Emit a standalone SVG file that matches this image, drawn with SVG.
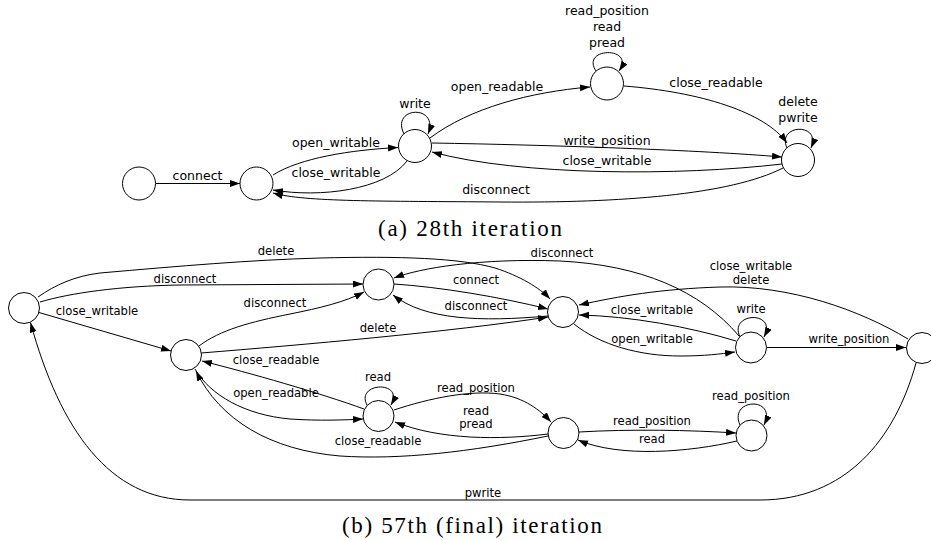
<svg xmlns="http://www.w3.org/2000/svg" width="931" height="540" viewBox="0 0 931 540">
<defs>
<marker id="arr" markerUnits="userSpaceOnUse" markerWidth="10" markerHeight="8" refX="10" refY="3.5" orient="auto">
<path d="M0,0 L10,3.5 L0,7 z" fill="#000"/>
</marker>
<style>
.nd{fill:#fff;stroke:#000;stroke-width:1}
.e{fill:none;stroke:#000;stroke-width:1;marker-end:url(#arr)}
.la{font-family:"DejaVu Sans",sans-serif;font-size:12.5px;text-anchor:middle;fill:#000}
.lb{font-family:"DejaVu Sans",sans-serif;font-size:11.6px;text-anchor:middle;fill:#000}
.cap{font-family:"Liberation Serif",serif;font-size:23px;fill:#000}
</style>
</defs>
<rect width="931" height="540" fill="#fff"/>

<!-- (a) -->
<g id="edges-a">
<path class="e" d="M156,183.5 L240,183.5"/>
<path class="e" d="M273,175 C300,158 350,150 398,147.5"/>
<path class="e" d="M407,161 C385,190 320,198 273,190"/>
<path class="e" d="M783,168 C730,195 620,203 500,202 C380,201 305,202 273,193"/>
<path class="e" d="M404,134 C390,106 440,104 428,134"/>
<path class="e" d="M430,138 C470,108 530,92 590,87"/>
<path class="e" d="M596,71 C580,47 636,46 619,71"/>
<path class="e" d="M624,86 C700,92 765,112 787,143"/>
<path class="e" d="M787,148 C776,124 822,122 811,148"/>
<path class="e" d="M432,143 C550,145 700,150 782,157"/>
<path class="e" d="M782,164 C680,176 520,176 432,152"/>
</g>
<g id="labels-a">
<text class="la" x="197.5" y="180">connect</text>
<text class="la" x="336" y="147">open_writable</text>
<text class="la" x="336" y="177">close_writable</text>
<text class="la" x="496" y="194">disconnect</text>
<text class="la" x="415" y="108">write</text>
<text class="la" x="497" y="91">open_readable</text>
<text class="la" x="607" y="15">read_position</text>
<text class="la" x="607" y="31">read</text>
<text class="la" x="607" y="47">pread</text>
<text class="la" x="716" y="87">close_readable</text>
<text class="la" x="798" y="106">delete</text>
<text class="la" x="798" y="122">pwrite</text>
<text class="la" x="607" y="145">write_position</text>
<text class="la" x="607" y="165">close_writable</text>
</g>
<g id="a1"><circle class="nd" cx="139" cy="183.5" r="16.5"/></g>
<g id="a2"><circle class="nd" cx="256.5" cy="183.5" r="16.5"/></g>
<g id="a3"><circle class="nd" cx="415" cy="146" r="16.5"/></g>
<g id="a4"><circle class="nd" cx="607" cy="83.5" r="16.5"/></g>
<g id="a5"><circle class="nd" cx="798" cy="160" r="16.5"/></g>
<text class="cap" x="470" y="236" text-anchor="middle" textLength="184" lengthAdjust="spacing">(a) 28th iteration</text>

<!-- (b) -->
<g id="edges-b">
<path class="e" d="M38,297 C55,285 75,276 100,273 C180,266 250,260 320,258 C400,256 460,258 495,268 C520,276 540,288 550,299"/>
<path class="e" d="M40,302 C70,293 120,286 180,285 L363,284"/>
<path class="e" d="M39,312.5 L171,351"/>
<path class="e" d="M199,346 C220,330 250,322 290,314 C320,308 345,302 364,292"/>
<path class="e" d="M201,353 C300,345 450,332 548,317"/>
<path class="e" d="M394,284 C440,287 500,297 548,309"/>
<path class="e" d="M548,316 C480,322 425,320 393,295"/>
<path class="e" d="M739,336 C700,290 640,265 560,261 C480,258 420,268 394,278"/>
<path class="e" d="M908,339 C860,310 790,285 720,287 C660,289 620,296 579,305"/>
<path class="e" d="M736,341 C690,327 630,316 579,315"/>
<path class="e" d="M574,324 C600,345 640,356 680,356 C705,356 720,354 735,352"/>
<path class="e" d="M740,337 C728,312 778,310 764,337"/>
<path class="e" d="M767,347.5 L906,347.5"/>
<path class="e" d="M916,363 C895,440 845,500 760,500 L190,500 C110,500 60,430 30.5,322.5"/>
<path class="e" d="M195,369 C210,395 245,415 290,419 C320,421 345,420 363,419"/>
<path class="e" d="M364,409 C320,393 250,373 202,361"/>
<path class="e" d="M548,436 C470,452 400,460 340,456 C270,450 220,420 196,371"/>
<path class="e" d="M367,405 C355,382 405,380 391,405"/>
<path class="e" d="M394,410 C430,398 470,390 500,394 C525,398 540,410 551,422"/>
<path class="e" d="M548,434 C500,440 440,440 395,422"/>
<path class="e" d="M579,432 C630,429 690,430 736,433"/>
<path class="e" d="M737,441 C690,452 620,458 578,440"/>
<path class="e" d="M740,425 C728,398 778,396 764,425"/>
</g>
<g id="labels-b">
<text class="lb" x="276" y="255">delete</text>
<text class="lb" x="185" y="283">disconnect</text>
<text class="lb" x="97" y="315">close_writable</text>
<text class="lb" x="275" y="307">disconnect</text>
<text class="lb" x="378" y="332">delete</text>
<text class="lb" x="476" y="284">connect</text>
<text class="lb" x="476" y="310">disconnect</text>
<text class="lb" x="562" y="257">disconnect</text>
<text class="lb" x="751" y="270">close_writable</text>
<text class="lb" x="751" y="284">delete</text>
<text class="lb" x="652" y="314">close_writable</text>
<text class="lb" x="652" y="343">open_writable</text>
<text class="lb" x="751" y="313">write</text>
<text class="lb" x="849" y="343">write_position</text>
<text class="lb" x="483" y="497">pwrite</text>
<text class="lb" x="276" y="397">open_readable</text>
<text class="lb" x="276" y="364">close_readable</text>
<text class="lb" x="378" y="445">close_readable</text>
<text class="lb" x="378" y="381">read</text>
<text class="lb" x="476" y="392">read_position</text>
<text class="lb" x="476" y="415">read</text>
<text class="lb" x="476" y="428">pread</text>
<text class="lb" x="652" y="425">read_position</text>
<text class="lb" x="652" y="443">read</text>
<text class="lb" x="751" y="400">read_position</text>
</g>
<g id="b1"><circle class="nd" cx="24" cy="308" r="15.5"/></g>
<g id="b2"><circle class="nd" cx="186" cy="355" r="15.5"/></g>
<g id="b3"><circle class="nd" cx="378.5" cy="284.5" r="15.5"/></g>
<g id="b4"><circle class="nd" cx="563" cy="312" r="15.5"/></g>
<g id="b5"><circle class="nd" cx="751" cy="347.5" r="15.5"/></g>
<g id="b6"><circle class="nd" cx="922" cy="348" r="15.5"/></g>
<g id="b7"><circle class="nd" cx="378.5" cy="416" r="15.5"/></g>
<g id="b8"><circle class="nd" cx="563.5" cy="433" r="15.5"/></g>
<g id="b9"><circle class="nd" cx="751.5" cy="435.5" r="15.5"/></g>
<text class="cap" x="472" y="533" text-anchor="middle" textLength="260" lengthAdjust="spacing">(b) 57th (final) iteration</text>
</svg>
